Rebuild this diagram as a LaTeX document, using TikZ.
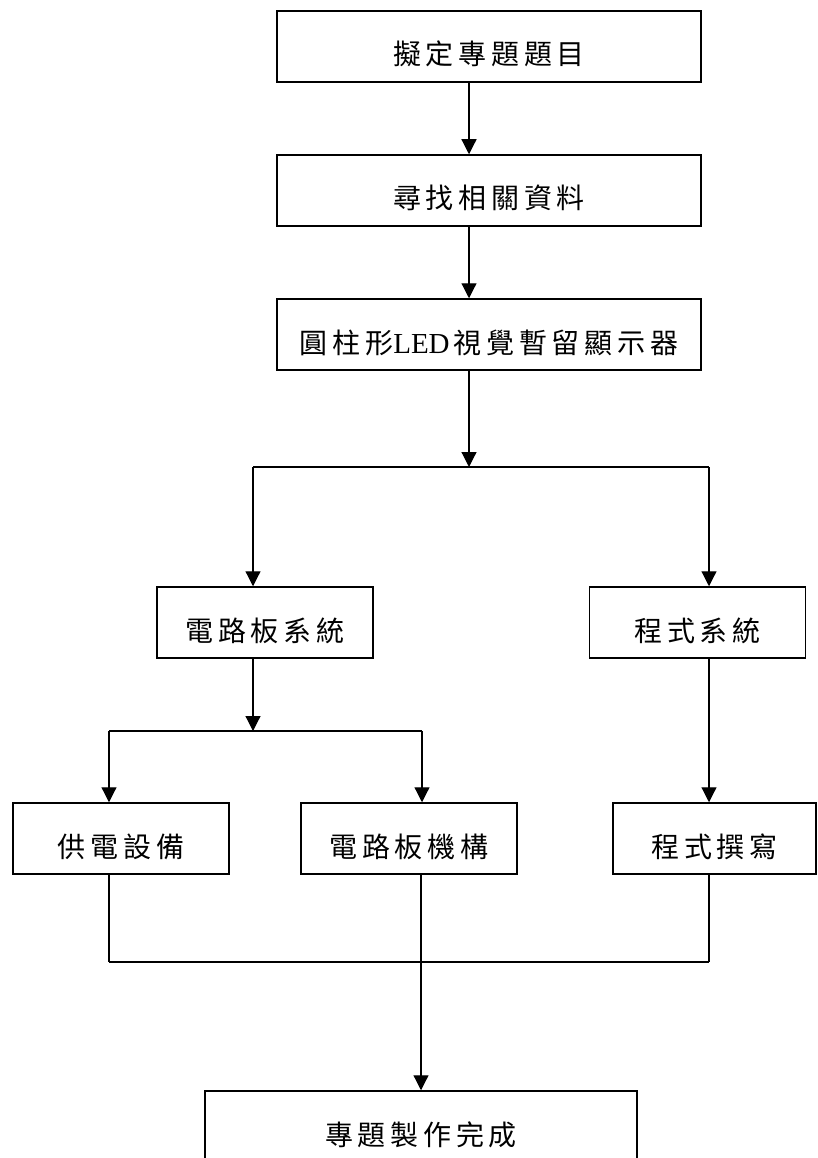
\documentclass[tikz,border=0pt]{standalone}
\usepackage{fontspec}
\setmainfont{Liberation Serif}
\newfontfamily\cjk[LetterSpace=17]{Noto Sans CJK TC}
\usetikzlibrary{arrows.meta}
\tikzset{
  box/.style={draw, line width=1.5pt, minimum height=71pt, inner sep=0pt,
    text height=41pt, text depth=4pt,
    font=\fontsize{28}{32}\selectfont\cjk},
  wide/.style={box, minimum width=424pt},
  mid/.style={box, minimum width=216pt},
  conn/.style={line width=1.2pt},
  arr/.style={conn, -{Triangle[length=15pt,width=15pt]}}
}
\begin{document}
\begin{tikzpicture}[x=1pt,y=-1pt]
\useasboundingbox (0,0) rectangle (818,1158);
% boxes
\node[wide] (b1) at (489,46.5) {擬定專題題目};
\node[wide] (b2) at (489,190.5) {尋找相關資料};
\node[wide] (b3) at (489,334.5) {圓柱形{\rmfamily\fontsize{29}{32}\selectfont LED\hspace{4pt}}視覺暫留顯示器};
\node[mid] (b4) at (265,622.5) {電路板系統};
\node[mid] (b5) at (697.5,622.5) {程式系統};
\node[mid] (b6) at (121,838.5) {供電設備};
\node[mid] (b7) at (409,838.5) {電路板機構};
\node[box, minimum width=203pt] (b8) at (714.5,838.5) {程式撰寫};
\node[box, minimum width=432pt] (b9) at (421,1126.5) {專題製作完成};
% junction points
\coordinate (a1) at (469,0);
\coordinate (j1) at (469,467);
\coordinate (j1l) at (253,467);
\coordinate (j1r) at (709,467);
\coordinate (j2) at (253,731);
\coordinate (j2l) at (109,731);
\coordinate (j2r) at (422,731);
\coordinate (m) at (421,962);
\coordinate (ml) at (109,962);
\coordinate (mr) at (709,962);
% connectors
\draw[arr] (b1.south -| a1) -- (b2.north -| a1);
\draw[arr] (b2.south -| a1) -- (b3.north -| a1);
\draw[arr] (b3.south -| a1) -- (j1);
\draw[conn] (j1l) -- (j1r);
\draw[arr] (j1l) -- (b4.north -| j1l);
\draw[arr] (j1r) -- (b5.north -| j1r);
\draw[arr] (b4.south -| j2) -- (j2);
\draw[conn] (j2l) -- (j2r);
\draw[arr] (j2l) -- (b6.north -| j2l);
\draw[arr] (j2r) -- (b7.north -| j2r);
\draw[arr] (b5.south -| j1r) -- (b8.north -| j1r);
\draw[conn] (b6.south -| ml) -- (ml);
\draw[conn] (b7.south -| m) -- (m);
\draw[conn] (b8.south -| mr) -- (mr);
\draw[conn] (ml) -- (mr);
\draw[arr] (m) -- (b9.north -| m);
\end{tikzpicture}
\end{document}
